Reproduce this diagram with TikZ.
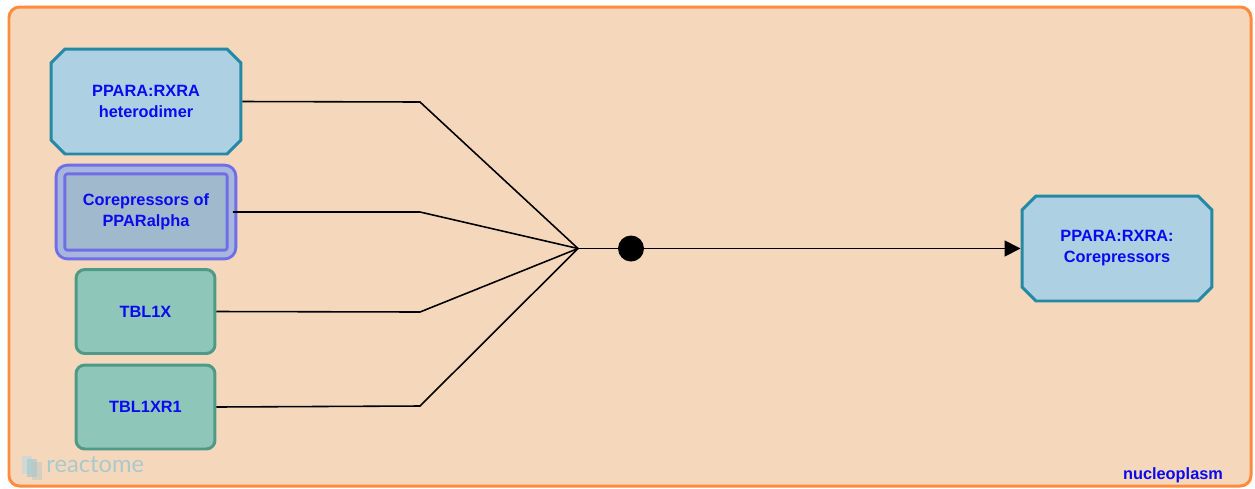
\documentclass[tikz,border=0pt]{standalone}
\usepackage{fontspec}
\setmainfont{Liberation Sans}
\newfontfamily\logofont{Lato}
\usepackage{xcolor}
\usepackage{tikz}
\usetikzlibrary{shapes,shapes.misc,arrows,positioning,fit,arrows.meta}

\definecolor{compfill}{HTML}{F5D8BB}
\definecolor{compdraw}{HTML}{FF8C3C}
\definecolor{cplxfill}{HTML}{ADD1E3}
\definecolor{cplxdraw}{HTML}{2589A6}
\definecolor{setdraw}{HTML}{6E6EE6}
\definecolor{setgap}{HTML}{A6B6DC}
\definecolor{setfill}{HTML}{A1B9CC}
\definecolor{protfill}{HTML}{8FC6BA}
\definecolor{protdraw}{HTML}{4E9A86}
\definecolor{labelblue}{HTML}{0A0AF0}
\definecolor{logocol}{HTML}{A9C9CE}

\begin{document}
\begin{tikzpicture}[x=0.02cm, y=-0.02cm,
            entity/.style={font=\fontsize{9.3}{12}\selectfont\bfseries, text=labelblue, align=center, line width=1.7pt},
            complex/.style={entity, chamfered rectangle, chamfered rectangle sep=0.14cm, draw=cplxdraw, fill=cplxfill, minimum width=3.8cm, minimum height=2.1cm},
            entityset/.style={entity, rectangle, rounded corners=4pt, draw=setdraw, double=setgap, double distance=3.2pt, fill=setfill, minimum width=3.42cm, minimum height=1.7cm},
            protein/.style={entity, rectangle, rounded corners=5pt, draw=protdraw, fill=protfill, minimum width=2.78cm, minimum height=1.68cm},
            link/.style={line width=0.9pt, black},
            output/.style={link, -{Triangle[length=9pt, width=9pt]}}
        ]
        \useasboundingbox (0,0) rectangle (1255,488);

        % compartment
        \draw[draw=compdraw, fill=compfill, line width=1.7pt, rounded corners=6pt] (9,7) rectangle (1251,486);
        \node[font=\fontsize{9.3}{11}\selectfont\bfseries, text=labelblue] (nucleoplasm) at (1173,475) {nucleoplasm};

        % logo
        \fill[logocol!70, opacity=0.7] (22,456) rectangle (32,474);
        \fill[logocol, opacity=0.7] (27,459) rectangle (37,477);
        \fill[logocol!80!black!60, opacity=0.5] (32,462) rectangle (42,480);
        \node[font=\logofont\fontsize{13.5}{13.5}\selectfont, text=logocol, anchor=west, inner sep=0pt] (logo) at (46,465) {reactome};

        % inputs
        \node[complex] (ppara) at (146,101.5) {PPARA:RXRA\\heterodimer};
        \node[entityset] (corep) at (146,212) {Corepressors of\\PPARalpha};
        \node[protein] (tblx) at (145.5,311.5) {TBL1X};
        \node[protein] (tblxr) at (145.5,407) {TBL1XR1};

        % output
        \node[complex] (result) at (1117,248.5) {PPARA:RXRA:\\Corepressors};

        % reaction
        \coordinate (join) at (578,248.5);
        \node[circle, fill=black, inner sep=0pt, minimum size=0.52cm] (dot) at (631,248.5) {};

        \draw[link] (ppara.east) -- (420,102) -- (join);
        \draw[link] (corep.east) -- (420,212) -- (join);
        \draw[link] (tblx.east) -- (420,312) -- (join);
        \draw[link] (tblxr.east) -- (420,406) -- (join);
        \draw[link] (join) -- (dot);
        \draw[output] (dot) -- (result.west);

    \end{tikzpicture}
\end{document}
